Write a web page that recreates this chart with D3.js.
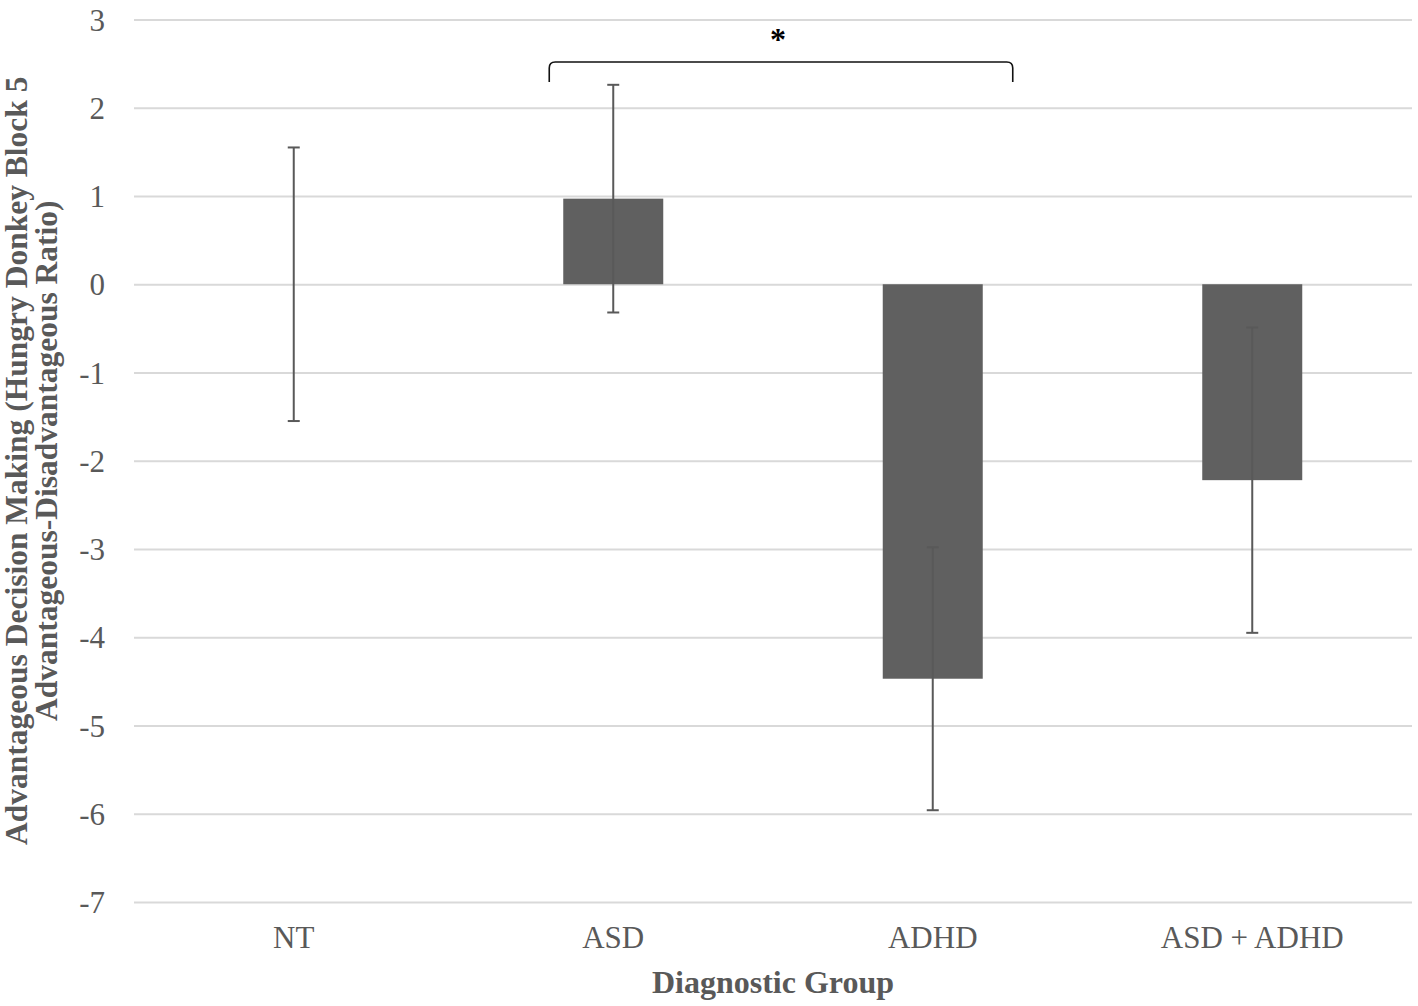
<!DOCTYPE html>
<html>
<head>
<meta charset="utf-8">
<script src="https://cdn.jsdelivr.net/npm/d3@7"></script>
<style>
    body { margin: 0; background: #fff; }
    text { font-family: 'Liberation Serif', 'Times New Roman', serif; }
</style>
</head>
<body>
<div class="canvas"></div>
<script>
const groups = ['NT', 'ASD', 'ADHD', 'ASD + ADHD'];
const means = [0, 0.97, -4.47, -2.22];
const errors = [1.55, 1.29, 1.49, 1.73];
const yTicks = [3, 2, 1, 0, -1, -2, -3, -4, -5, -6, -7];

const dims = { width: 1418, height: 1006 };
const plot = { left: 134, right: 1412, top: 19.5, bottom: 902 };

const svg = d3.select('.canvas')
    .append('svg')
    .attr('width', dims.width)
    .attr('height', dims.height)
;

const x = d3.scaleBand()
    .domain(groups)
    .range([plot.left, plot.right])
    .padding(0)
;
const barWidth = x.bandwidth() * 0.313;
const cx = g => x(g) + x.bandwidth() / 2;

const y = d3.scaleLinear()
    .domain([-7, 3])
    .range([plot.bottom, plot.top])
;

// gridlines + tick labels (plain hyphen for negatives, like the original)
const yAxis = d3.axisLeft(y)
    .tickValues(yTicks)
    .tickSize(-(plot.right - plot.left))
    .tickPadding(29)
    .tickFormat(d => String(d))
;

const yAxisGroup = svg.append('g')
    .attr('transform', `translate(${plot.left}, 0)`)
    .call(yAxis)
;
yAxisGroup.select('.domain').remove();
yAxisGroup.selectAll('line')
    .attr('stroke', '#d9d9d9')
    .attr('stroke-width', 2);
yAxisGroup.selectAll('text')
    .attr('fill', '#595959')
    .style('font-size', '31px')
    .attr('dy', '0.34em');

// bars
svg.append('g').selectAll('rect')
    .data(groups)
    .enter()
    .append('rect')
    .attr('x', (d) => cx(d) - barWidth / 2)
    .attr('width', barWidth)
    .attr('y', (d, i) => y(Math.max(0, means[i])))
    .attr('height', (d, i) => Math.abs(y(means[i]) - y(0)))
    .attr('fill', '#606060')
;

// error bars
const errGroup = svg.append('g')
    .attr('stroke', '#595959')
    .attr('stroke-width', 2)
;
groups.forEach((g, i) => {
    const lo = y(means[i] - errors[i]);
    const hi = y(means[i] + errors[i]);
    errGroup.append('line')
        .attr('x1', cx(g)).attr('x2', cx(g))
        .attr('y1', lo).attr('y2', hi);
    [lo, hi].forEach(v => {
        errGroup.append('line')
            .attr('x1', cx(g) - 6).attr('x2', cx(g) + 6)
            .attr('y1', v).attr('y2', v);
    });
});

// category labels
svg.append('g').selectAll('text')
    .data(groups)
    .enter()
    .append('text')
    .attr('x', d => cx(d))
    .attr('y', 948)
    .attr('text-anchor', 'middle')
    .attr('fill', '#595959')
    .style('font-size', '31px')
    .text(d => d)
;

// axis titles
svg.append('text')
    .attr('x', (plot.left + plot.right) / 2)
    .attr('y', 993)
    .attr('text-anchor', 'middle')
    .attr('fill', '#595959')
    .style('font-size', '32px')
    .style('font-weight', 'bold')
    .text('Diagnostic Group')
;

const yTitle = svg.append('text')
    .attr('transform', `translate(0, ${(plot.top + plot.bottom) / 2}) rotate(-90)`)
    .attr('text-anchor', 'middle')
    .attr('fill', '#595959')
    .style('font-size', '31.5px')
    .style('font-weight', 'bold')
;
yTitle.append('tspan').attr('x', 0).attr('y', 27)
    .text('Advantageous Decision Making (Hungry Donkey Block 5');
yTitle.append('tspan').attr('x', 0).attr('y', 57)
    .text('Advantageous-Disadvantageous Ratio)');

// significance bracket ASD vs ADHD
const bx1 = cx('ASD') - 64;
const bx2 = cx('ADHD') + 80;
const by = 62;
const bEnd = 82;
svg.append('path')
    .attr('d', `M${bx1},${bEnd} L${bx1},${by + 6} Q${bx1},${by} ${bx1 + 6},${by}`
        + ` L${bx2 - 6},${by} Q${bx2},${by} ${bx2},${by + 6} L${bx2},${bEnd}`)
    .attr('fill', 'none')
    .attr('stroke', '#111')
    .attr('stroke-width', 1.6)
;
svg.append('text')
    .attr('x', (bx1 + bx2) / 2 - 3)
    .attr('y', 50)
    .attr('text-anchor', 'middle')
    .attr('fill', '#000')
    .style('font-size', '32px')
    .style('font-weight', 'bold')
    .text('*')
;
</script>
</body>
</html>
